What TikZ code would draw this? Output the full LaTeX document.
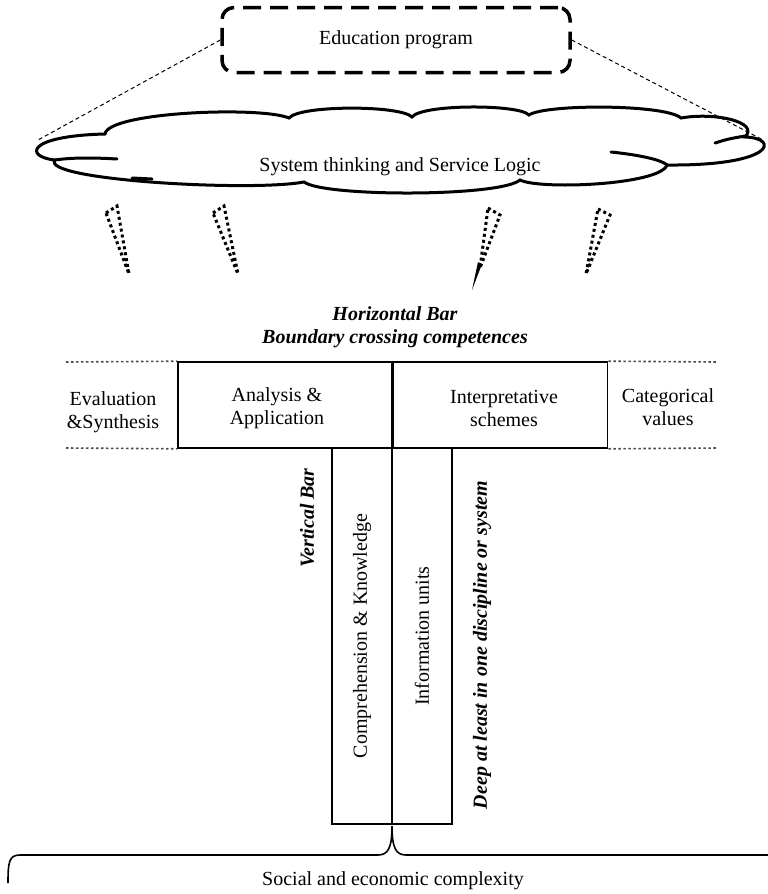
\documentclass[tikz,border=0pt]{standalone}
\usepackage{fontspec}
\setmainfont{Liberation Serif}
\usetikzlibrary{positioning}
\newcommand{\pxfont}{\fontsize{20}{23}\selectfont}

\begin{document}
\begin{tikzpicture}[x=1pt,y=-1pt,font=\pxfont,
    progbox/.style={draw,line width=3.5pt,dash pattern=on 18pt off 9pt,rounded corners=12pt,minimum width=348pt,minimum height=65pt},
    cloudln/.style={line width=3pt,line cap=round},
    hbox/.style={draw,line width=1.6pt,minimum width=214pt,minimum height=86pt,inner sep=0pt},
    vbox/.style={draw,line width=1.6pt,rotate=90,minimum width=376pt,minimum height=60pt,inner sep=0pt},
    guide/.style={line width=1pt,dash pattern=on 4pt off 3pt},
    level/.style={line width=1.6pt,dash pattern=on 2.5pt off 2.5pt,black!70},
    rain/.style={line width=3pt,dash pattern=on 3pt off 3pt},
    lbl/.style={align=center},
    head/.style={font=\pxfont\bfseries\itshape}]
  \useasboundingbox (0,0) rectangle (768,894);

  \node[progbox] (prog) at (396,40) {Education program};

  \draw[cloudln] (55,160)
    .. controls (25,157) and (25,136) .. (105,134)
    .. controls (108,112) and (260,106) .. (289,118)
    .. controls (300,105) and (400,105) .. (412,117)
    .. controls (422,104) and (519,104) .. (529,115)
    .. controls (545,104) and (665,104) .. (681,118)
    .. controls (715,112) and (760,122) .. (745,137)
    .. controls (780,138) and (775,166) .. (667,165)
    .. controls (660,185) and (540,190) .. (520,180)
    .. controls (500,197) and (324,197) .. (304,182)
    .. controls (250,192) and (40,180) .. (55,160) -- cycle;
  \draw[cloudln] (55,160) .. controls (75,157) and (100,158) .. (117,159);
  \draw[cloudln] (132,178) -- (152,179);
  \draw[cloudln] (611,152) .. controls (640,155) and (662,160) .. (667,165);
  \draw[cloudln] (715,143) .. controls (728,139) .. (745,136);
  \node[anchor=base] (think) at (400,171) {System thinking and Service Logic};

  \coordinate (cl) at (38,140);
  \coordinate (cr) at (763,140);
  \draw[guide] (prog.west) -- (cl);
  \draw[guide] (prog.east) -- (cr);

  \draw[rain] (106,213) -- (117,206) -- (129,274) -- cycle;
  \draw[rain] (213,213) -- (224,206) -- (238,274) -- cycle;
  \draw[rain] (488,208) -- (500,215) -- (480,268) -- cycle;
  \fill (478,262) -- (482,264) -- (472,290) -- cycle;
  \draw[rain] (598,209) -- (610,215) -- (586,274) -- cycle;

  \node[head,anchor=base] (hbar) at (395,320) {Horizontal Bar};
  \node[head,anchor=base] (cross) at (395,343) {Boundary crossing competences};

  \node[hbox] (anal) at (285,405) {};
  \node[hbox,right=0pt of anal] (interp) {};
  \node[lbl] (analtxt) at (277,408) {Analysis \&\\Application};
  \node[lbl] (interptxt) at (504,408) {Interpretative\\schemes};
  \node[lbl] (eval) at (113,412) {Evaluation\\\&Synthesis};
  \node[lbl] (categ) at (668,407) {Categorical\\values};

  \coordinate (lt) at (66,362);
  \coordinate (lb) at (66,448);
  \coordinate (rt) at (717,362);
  \coordinate (rb) at (717,448);
  \draw[level] (lt) -- (anal.north west);
  \draw[level] (lb) -- (anal.south west);
  \draw[level] (interp.north east) -- (rt);
  \draw[level] (interp.south east) -- (rb);

  \node[vbox] (comp) at (362,636) {Comprehension \& Knowledge};
  \node[vbox] (info) at (422,636) {Information units};
  \node[head,rotate=90] (vbar) at (307,518) {Vertical Bar};
  \node[head,rotate=90] (deep) at (482,645) {Deep at least in one discipline or system};

  \coordinate (tip) at (392,826);
  \coordinate (bl) at (8,883);
  \draw[line width=1.6pt] (bl) .. controls (8,862) and (9,855) .. (20,855) -- (378,855)
    .. controls (388,855) and (392,848) .. (tip)
    .. controls (392,848) and (396,855) .. (406,855) -- (800,855);
  \node[anchor=base] (social) at (393,885) {Social and economic complexity};
\end{tikzpicture}
\end{document}
